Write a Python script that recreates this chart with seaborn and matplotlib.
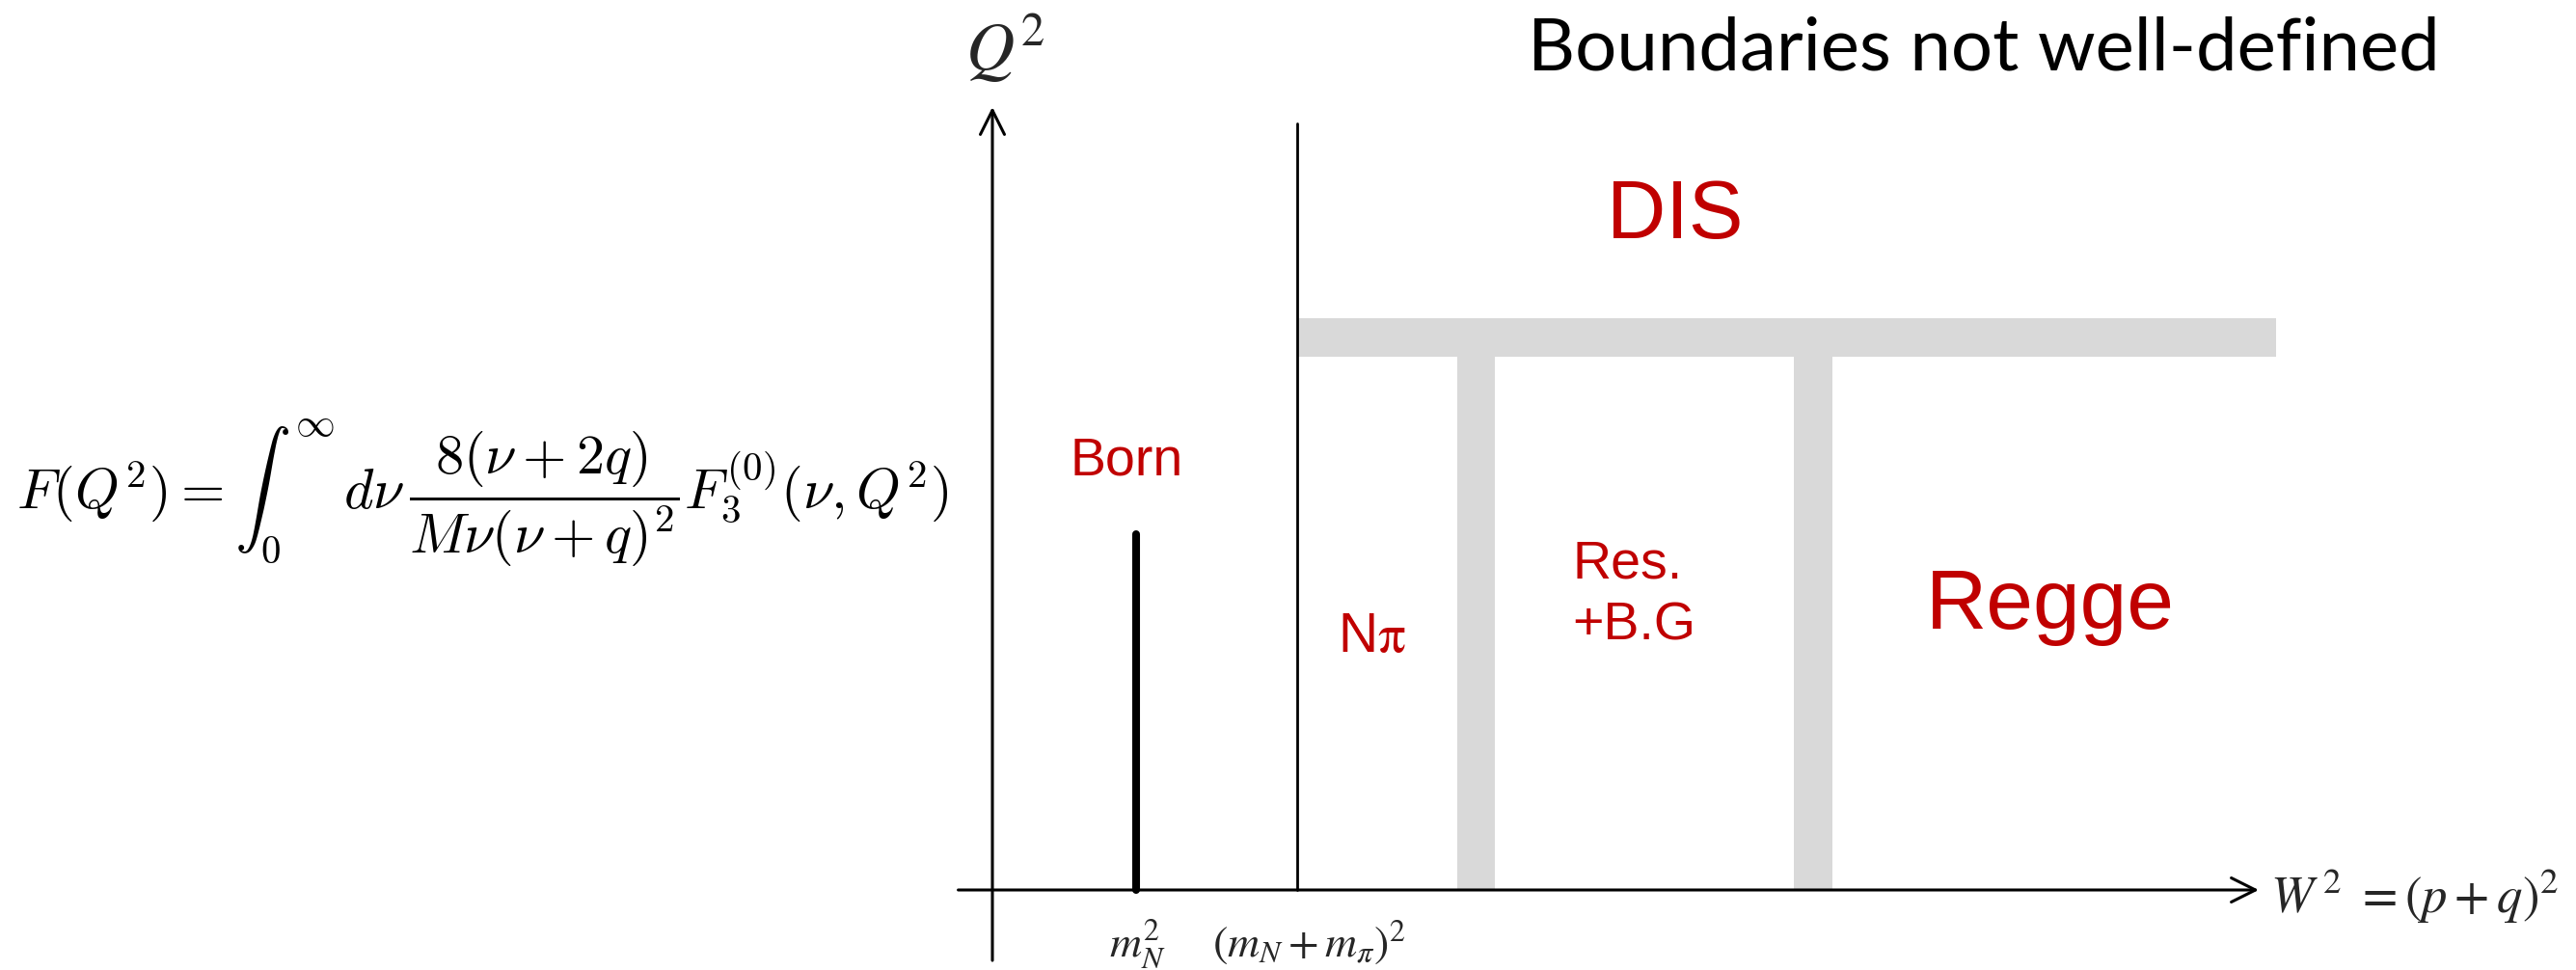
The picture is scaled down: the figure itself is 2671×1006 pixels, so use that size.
import matplotlib
matplotlib.use("Agg")
import matplotlib.pyplot as plt
import seaborn as sns
import numpy as np

# ---- diagram data (arbitrary W^2 / Q^2 units) ----
born_w2 = [1.135, 1.135]
born_q2 = [0.0, 4.54]
threshold_w2 = [2.41, 2.41]
threshold_q2 = [0.0, 9.79]
boundary_w2 = [3.82, 6.48]      # Res./Regge transition boundaries
dis_q2 = 7.06                    # DIS boundary
dis_w2_end = 10.14
axis_x = [-0.27, 10.0]
axis_y = [-0.9, 10.0]

region_labels = ["DIS", "Born", "N$\\mathrm{\\pi}$", "Res.\n+B.G", "Regge"]
region_pos = [(4.85, 8.32), (0.61, 5.30), (2.73, 3.04), (4.58, 3.98), (7.37, 3.34)]
region_sizes = [61, 40, 41, 40, 63]

title = "Boundaries not well-defined"
formula = r"$F(Q^2) = \int_0^\infty\, d\nu\, \dfrac{8(\nu+2q)}{M\nu(\nu+q)^2} F_3^{(0)}(\nu,Q^2)$"
xlabel = r"$W^{\,2}\ = (p+q)^2$"
ylabel = r"$Q^2$"
tick_labels = [r"$m_N^2$", r"$(m_N+m_\pi)^2$"]
tick_pos = [0.92, 1.74]

sns.set_theme(style="white")
plt.rcParams["font.family"] = ["Liberation Sans", "DejaVu Sans"]

W, H, DPI = 2671, 1006, 100
fig = plt.figure(figsize=(W / DPI, H / DPI), dpi=DPI)
ax = fig.add_axes([0, 0, 1, 1])
ax.set_xlim(-1029 / 131.3, (W - 1029) / 131.3)
ax.set_ylim(-(H - 923) / 81.2, 923 / 81.2)
ax.axis("off")

gray = "#D9D9D9"
red = "#C00000"
bw = 0.30
# vertical boundary bands
ax.bar(boundary_w2, [dis_q2] * len(boundary_w2), width=bw, bottom=0, color=gray, linewidth=0, zorder=1)
# horizontal DIS band
ax.barh([dis_q2], [dis_w2_end - threshold_w2[0]], height=0.49, left=threshold_w2[0], color=gray, linewidth=0, zorder=1)

# axes arrows
ax.annotate("", xy=(axis_x[1], 0), xytext=(axis_x[0], 0),
            arrowprops=dict(arrowstyle="->", lw=2.2, color="black", mutation_scale=45, shrinkA=0, shrinkB=0), zorder=3)
ax.annotate("", xy=(0, axis_y[1]), xytext=(0, axis_y[0]),
            arrowprops=dict(arrowstyle="->", lw=2.2, color="black", mutation_scale=45, shrinkA=0, shrinkB=0), zorder=3)

# Born pole and threshold line
sns.lineplot(x=born_w2, y=born_q2, ax=ax, color="black", lw=5.8, estimator=None, sort=False, zorder=4)
sns.lineplot(x=threshold_w2, y=threshold_q2, ax=ax, color="black", lw=2.0, estimator=None, sort=False, zorder=4)

for lab, (x, y), s in zip(region_labels, region_pos, region_sizes):
    if "\n" in lab:
        l1, l2 = lab.split("\n")
        ax.text(x, y, l1, color=red, fontsize=s, ha="left", va="baseline")
        ax.text(x, y - 0.79, l2, color=red, fontsize=s, ha="left", va="baseline")
    else:
        ax.text(x, y, lab, color=red, fontsize=s, ha="left", va="baseline", math_fontfamily="stix")

t_title = ax.text(4.23, 10.48, title, fontsize=50, family=["Lato", "DejaVu Sans"], ha="left", va="baseline", color="black")
t_form = ax.text(-7.71, 5.07, formula, fontsize=50, math_fontfamily="cm", ha="left", va="center", color="black")
ax.text(-0.21, 10.47, ylabel, fontsize=50, math_fontfamily="stix", ha="left", va="baseline")
ax.text(10.09, -0.30, xlabel, fontsize=38, math_fontfamily="stix", ha="left", va="baseline")
for lab, x in zip(tick_labels, tick_pos):
    ax.text(x, -0.84, lab, fontsize=33, math_fontfamily="stix", ha="left", va="baseline")

# fit widths of title and formula to the reference
fig.canvas.draw()
for t, target in [(t_title, 945), (t_form, 966)]:
    bb = t.get_window_extent()
    t.set_fontsize(t.get_fontsize() * target / bb.width)

fig.savefig("out.png", dpi=DPI)
